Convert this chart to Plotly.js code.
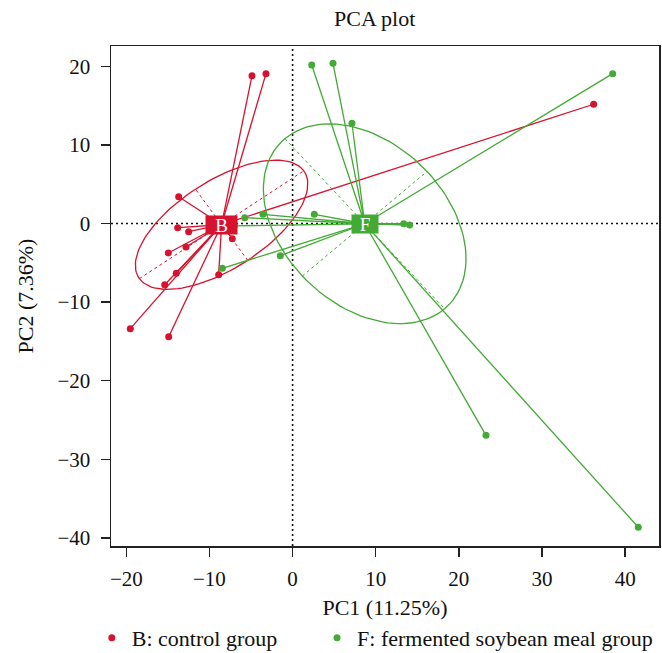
<!DOCTYPE html>
<html><head><meta charset="utf-8">
<script src="https://cdn.plot.ly/plotly-3.0.1.min.js"></script>
<style>html,body{margin:0;padding:0;background:#fff}</style>
</head><body><div id="chart" style="width:662px;height:653px"></div>
<script>
// ---- data ----
const groupNames  = ["B: control group", "F: fermented soybean meal group"];
const groupLabels = ["B", "F"];
const groupColors = ["#D6122F", "#42AA35"];

const bPC1 = [-13.70, -13.82, -12.50, -7.25, -12.82, -14.95, -13.99, -15.38, -8.89, -19.52, -14.90, -4.88, -3.20, 36.21];
const bPC2 = [  3.41,  -0.53,  -1.04, -1.93,  -2.99,  -3.75,  -6.34,  -7.79, -6.51, -13.38, -14.40, 18.80, 19.06, 15.17];

const fPC1 = [ 2.30,  4.86,  7.14, -5.76, -3.56, 2.61, 13.36, 14.08, -1.48, -8.45, 38.50,  23.26,  41.58, -7.00];
const fPC2 = [20.17, 20.38, 12.75,  0.74,  1.17, 1.17, -0.03, -0.19, -4.10, -5.70, 19.06, -26.95, -38.65, -0.30];

const xTicks = [-20, -10, 0, 10, 20, 30, 40];
const yTicks = [-40, -30, -20, -10, 0, 10, 20];

const xTitle = "PC1 (11.25%)";
const yTitle = "PC2 (7.36%)";
const chartTitle = "PCA plot";

// ---- style ----
const FONT = "Liberation Serif, Times New Roman, serif";
const ELLIPSE_SCALE = 0.79;
const labelBox = [{w: 31, h: 18}, {w: 26, h: 18}];
const legendIds = ["legend", "legend2"];
const legendX = [-0.035, 0.376];

function groupStats(xs, ys) {
  const n = xs.length;
  const mx = xs.reduce((a, b) => a + b, 0) / n;
  const my = ys.reduce((a, b) => a + b, 0) / n;
  let sxx = 0, syy = 0, sxy = 0;
  for (let i = 0; i < n; i++) {
    const dx = xs[i] - mx, dy = ys[i] - my;
    sxx += dx * dx; syy += dy * dy; sxy += dx * dy;
  }
  sxx /= n; syy /= n; sxy /= n;
  const m = (sxx + syy) / 2, d = (sxx - syy) / 2;
  const r = Math.sqrt(d * d + sxy * sxy);
  const l1 = m + r, l2 = Math.max(m - r, 0);
  const th = 0.5 * Math.atan2(2 * sxy, sxx - syy);
  return {mx, my, a: ELLIPSE_SCALE * Math.sqrt(l1), b: ELLIPSE_SCALE * Math.sqrt(l2), th};
}

const traces = [];
const annotations = [];
const groups = [[bPC1, bPC2], [fPC1, fPC2]];

groups.forEach(([xs, ys], g) => {
  const s = groupStats(xs, ys);
  const col = groupColors[g];
  const c = Math.cos(s.th), sn = Math.sin(s.th);
  // ellipse
  const ex = [], ey = [];
  for (let k = 0; k <= 120; k++) {
    const t = 2 * Math.PI * k / 120;
    const u = s.a * Math.cos(t), v = s.b * Math.sin(t);
    ex.push(s.mx + u * c - v * sn);
    ey.push(s.my + u * sn + v * c);
  }
  traces.push({x: ex, y: ey, mode: "lines", line: {color: col, width: 1.3},
    hoverinfo: "skip", showlegend: false});
  // ellipse axes
  traces.push({
    x: [s.mx - s.a * c, s.mx + s.a * c, null, s.mx + s.b * sn, s.mx - s.b * sn],
    y: [s.my - s.a * sn, s.my + s.a * sn, null, s.my - s.b * c, s.my + s.b * c],
    mode: "lines", line: {color: col, width: 1, dash: "dot"},
    hoverinfo: "skip", showlegend: false});
  // star segments
  const sx = [], sy = [];
  xs.forEach((x, i) => { sx.push(s.mx, x, null); sy.push(s.my, ys[i], null); });
  traces.push({x: sx, y: sy, mode: "lines", line: {color: col, width: 1.3},
    hoverinfo: "skip", showlegend: false});
  // points
  traces.push({x: xs, y: ys, mode: "markers", name: groupNames[g], legend: legendIds[g],
    marker: {color: col, size: 7}, showlegend: true});
  // centroid label
  annotations.push({x: s.mx, y: s.my, xref: "x", yref: "y", text: groupLabels[g],
    showarrow: false, bgcolor: col, borderpad: 0, width: labelBox[g].w, height: labelBox[g].h,
    font: {family: FONT, size: 19, color: "#ffffff"}});
});

const axisCommon = {
  showgrid: false, zeroline: false, showline: true, mirror: true, automargin: false,
  linecolor: "#222", linewidth: 1.5, ticks: "outside", ticklen: 9, tickwidth: 1.5,
  tickcolor: "#222", tickfont: {family: FONT, size: 21, color: "#111"}
};

const legendCommon = {orientation: "h", xanchor: "left", y: -0.184, yanchor: "middle",
  font: {family: FONT, size: 22, color: "#111"}, bgcolor: "rgba(0,0,0,0)"};

const layout = {
  width: 662, height: 653,
  margin: {l: 111, r: 3, t: 46, b: 107, autoexpand: false},
  paper_bgcolor: "#fff", plot_bgcolor: "#fff",
  font: {family: FONT, size: 22, color: "#111"},
  title: {text: chartTitle, x: 0.566, xanchor: "center", y: 0.972, yanchor: "middle",
    font: {family: FONT, size: 22, color: "#111"}},
  xaxis: Object.assign({}, axisCommon, {range: [-21.84, 44.07], tickvals: xTicks,
    ticklabelstandoff: 4,
    title: {text: xTitle, standoff: 10, font: {family: FONT, size: 22, color: "#111"}}}),
  yaxis: Object.assign({}, axisCommon, {range: [-41.03, 22.58], tickvals: yTicks,
    ticklabelstandoff: 6,
    title: {text: yTitle, standoff: 18, font: {family: FONT, size: 22, color: "#111"}}}),
  shapes: [
    {type: "line", xref: "x", yref: "paper", x0: 0, x1: 0, y0: 0, y1: 1, layer: "between",
      line: {color: "#111", width: 1.6, dash: "2px,3px"}},
    {type: "line", xref: "paper", yref: "y", x0: 0, x1: 1, y0: 0, y1: 0, layer: "between",
      line: {color: "#111", width: 1.6, dash: "2px,3px"}}
  ],
  annotations: annotations,
  showlegend: true,
  legend: Object.assign({}, legendCommon, {x: legendX[0]}),
  legend2: Object.assign({}, legendCommon, {x: legendX[1]})
};

Plotly.newPlot("chart", traces, layout, {displayModeBar: false, staticPlot: true});
</script></body></html>
